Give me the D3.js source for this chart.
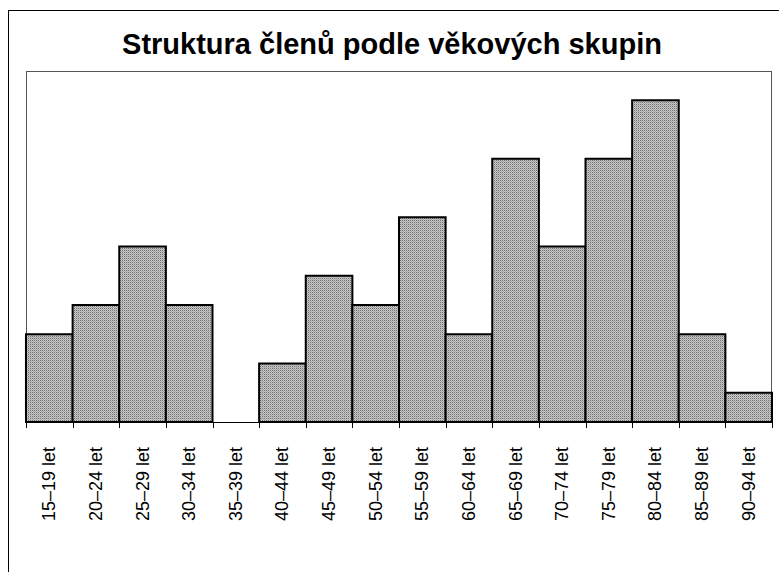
<!DOCTYPE html>
<html>
<head>
<meta charset="utf-8">
<script src="https://cdn.jsdelivr.net/npm/d3@7"></script>
<style>
  body { margin: 0; background: #fff; }
  svg { display: block; }
</style>
</head>
<body>
<svg id="chart" width="779" height="572"></svg>
<script>
const title = 'Struktura členů podle věkových skupin';
const categories = ['15–19 let', '20–24 let', '25–29 let', '30–34 let', '35–39 let', '40–44 let',
    '45–49 let', '50–54 let', '55–59 let', '60–64 let', '65–69 let', '70–74 let',
    '75–79 let', '80–84 let', '85–89 let', '90–94 let'];
const values = [3, 4, 6, 4, 0, 2, 5, 4, 7, 3, 9, 6, 9, 11, 3, 1];
const yDomain = [0, 12];

const svg = d3.select('#chart');
const plotLeft = 26, plotRight = 772, plotTop = 71, plotBottom = 422;

// dotted grey fill
const pat = svg.append('defs').append('pattern')
    .attr('id', 'dots')
    .attr('width', 2).attr('height', 2)
    .attr('patternUnits', 'userSpaceOnUse');
pat.append('rect').attr('width', 2).attr('height', 2).attr('fill', '#c8c8c8');
pat.append('rect').attr('width', 1).attr('height', 1).attr('fill', '#6e6e6e');
pat.append('rect').attr('x', 1).attr('y', 1).attr('width', 1).attr('height', 1).attr('fill', '#a8a8a8');

// outer frame
svg.append('rect')
    .attr('x', 8.5).attr('y', 10.5)
    .attr('width', 800).attr('height', 600)
    .attr('fill', 'none').attr('stroke', '#000').attr('stroke-width', 1);

svg.append('text')
    .attr('x', 392).attr('y', 54)
    .attr('text-anchor', 'middle')
    .attr('font-family', 'Liberation Sans, Arial, sans-serif')
    .attr('font-weight', 'bold')
    .attr('font-size', 29)
    .text(title);

const x = d3.scaleBand().domain(categories).range([plotLeft, plotRight]);
const y = d3.scaleLinear().domain(yDomain).range([plotBottom, plotTop]);

// plot area border
svg.append('rect')
    .attr('x', plotLeft + 0.5).attr('y', plotTop + 0.5)
    .attr('width', plotRight - plotLeft - 1).attr('height', plotBottom - plotTop)
    .attr('fill', 'none').attr('stroke', '#555').attr('stroke-width', 1);

svg.selectAll('.bar')
    .data(values.map((v, i) => ({c: categories[i], v: v})).filter(d => d.v > 0))
    .enter()
    .append('rect')
    .attr('class', 'bar')
    .attr('x', d => x(d.c))
    .attr('y', d => y(d.v))
    .attr('width', x.bandwidth())
    .attr('height', d => plotBottom - y(d.v))
    .attr('fill', 'url(#dots)')
    .attr('stroke', '#000')
    .attr('stroke-width', 2);

// category axis, ticks on band boundaries
const axis = svg.append('g');
axis.append('line')
    .attr('x1', plotLeft).attr('x2', plotRight)
    .attr('y1', plotBottom + 0.5).attr('y2', plotBottom + 0.5)
    .attr('stroke', '#000');
const bounds = categories.map(c => x(c)).concat([plotRight]);
axis.selectAll('.tick')
    .data(bounds)
    .enter()
    .append('line')
    .attr('class', 'tick')
    .attr('x1', d => Math.round(d) + 0.5).attr('x2', d => Math.round(d) + 0.5)
    .attr('y1', plotBottom).attr('y2', plotBottom + 6)
    .attr('stroke', '#000');

axis.selectAll('.lbl')
    .data(categories)
    .enter()
    .append('text')
    .attr('class', 'lbl')
    .attr('transform', d => 'translate(' + (x(d) + x.bandwidth() / 2 + 6) + ',447) rotate(-90)')
    .attr('text-anchor', 'end')
    .attr('font-family', 'Liberation Sans, Arial, sans-serif')
    .attr('font-size', 18)
    .text(d => d);
</script>
</body>
</html>
